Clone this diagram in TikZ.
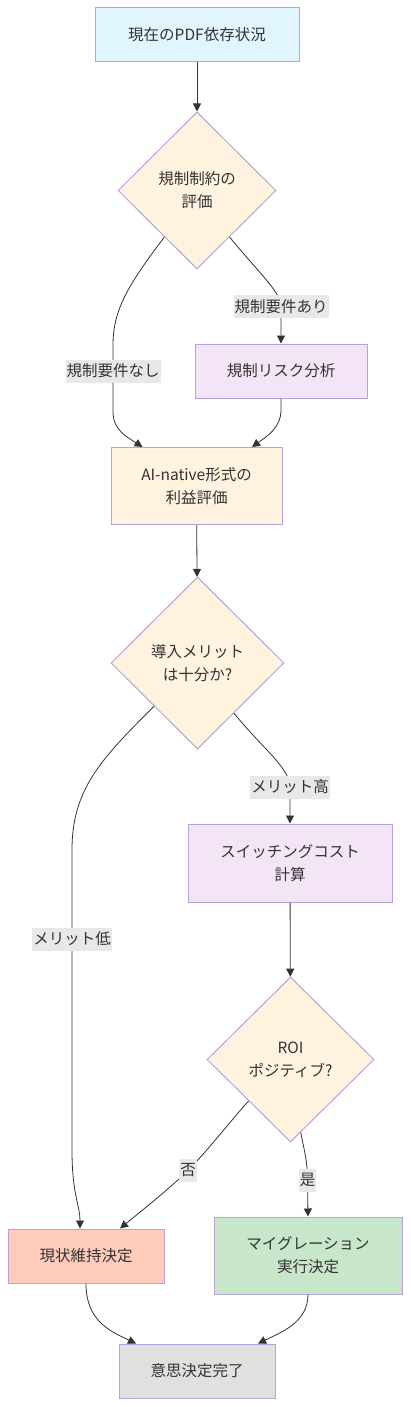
\documentclass[tikz,border=0pt]{standalone}
\usepackage{fontspec}
\setmainfont{Noto Sans CJK JP}
\usetikzlibrary{shapes.geometric,arrows.meta}
\definecolor{strk}{HTML}{B7A3DC}
\definecolor{edgec}{HTML}{333333}
\definecolor{txt}{HTML}{333333}
\definecolor{cblue}{HTML}{E1F5FE}
\definecolor{corange}{HTML}{FFF3E0}
\definecolor{cpurple}{HTML}{F3E5F5}
\definecolor{cred}{HTML}{FFCCBC}
\definecolor{cgreen}{HTML}{C8E6C9}
\definecolor{cgray}{HTML}{E0E0E0}
\definecolor{lblbg}{HTML}{E8E8E8}
\tikzset{
  base/.style={draw=strk, line width=1pt, text=txt, align=center, inner sep=0pt,
    font=\fontsize{15.5}{23}\selectfont},
  boxn/.style={base, rectangle},
  dia/.style={base, diamond, aspect=1},
  lbl/.style={fill=lblbg, text=txt, inner xsep=1pt, inner ysep=0pt, minimum height=23pt,
    font=\fontsize{15.5}{23}\selectfont},
  conn/.style={draw=edgec, line width=0.8pt, -{Triangle[length=8pt,width=8pt]}},
}
\begin{document}
\begin{tikzpicture}[x=1pt,y=-1pt]
\useasboundingbox (0,0) rectangle (410,1407);
% nodes
\node[boxn, fill=cblue, minimum width=204pt, minimum height=54pt] (A) at (197,35) {現在のPDF依存状況};
\node[dia, fill=corange, minimum width=158pt, minimum height=157pt] (B) at (197,190.5) {規制制約の\\評価};
\node[boxn, fill=cpurple, minimum width=172pt, minimum height=54pt] (C) at (281,371) {規制リスク分析};
\node[boxn, fill=corange, minimum width=171pt, minimum height=77pt] (D) at (196.5,486) {AI-native形式の\\利益評価};
\node[dia, fill=corange, minimum width=173pt, minimum height=172pt] (E) at (197.5,663) {導入メリット\\は十分か?};
\node[boxn, fill=cpurple, minimum width=204pt, minimum height=78pt] (F) at (290,863) {スイッチングコスト\\計算};
\node[dia, fill=corange, minimum width=167pt, minimum height=165pt] (G) at (290.5,1059.5) {ROI\\ポジティブ?};
\node[boxn, fill=cred, minimum width=156pt, minimum height=54pt] (H) at (86,1256) {現状維持決定};
\node[boxn, fill=cgreen, minimum width=188pt, minimum height=77pt] (I) at (308,1255.5) {マイグレーション\\実行決定};
\node[boxn, fill=cgray, minimum width=156pt, minimum height=54pt] (J) at (197,1371) {意思決定完了};
% label positions
\coordinate (pnashi) at (113,371);
\coordinate (pari) at (281,306.5);
\coordinate (ptaka) at (290,787);
\coordinate (phiku) at (72,939);
\coordinate (pno) at (188,1170.5);
\coordinate (pyes) at (307.5,1180);
% connectors
\draw[conn] (A) -- (B);
\draw[conn] (B.235) .. controls (128,285) and (113,310) .. (113,345) -- (pnashi) -- (113,412)
  .. controls (113,430) and (127,437) .. ([xshift=-54pt]D.north);
\draw[conn] (B.305) .. controls (258,272) and (281,292) .. (pari) -- (C.north);
\draw[conn] (C.south) -- (281,410) .. controls (281,428) and (266,437) .. ([xshift=55.5pt]D.north);
\draw[conn] (D) -- (E);
\draw[conn] (E.south west) .. controls (100,760) and (72,790) .. (72,850) -- (phiku) -- (72,1150)
  .. controls (72,1195) and (80,1205) .. ([xshift=-6pt]H.north);
\draw[conn] (E.306) .. controls (262,748) and (290,768) .. (ptaka) -- (F.north);
\draw[conn] (F) -- (G);
\draw[conn] (G.south west) .. controls (228,1124) and (208,1150) .. (pno)
  .. controls (168,1190) and (140,1212) .. ([xshift=34pt]H.north);
\draw[conn] (G.278) .. controls (304,1150) and (307.5,1160) .. (pyes) -- (I.north);
\draw[conn] (H.south) .. controls (86,1322) and (112,1332) .. ([xshift=-61pt]J.north);
\draw[conn] (I.south) .. controls (308,1322) and (282,1332) .. ([xshift=61pt]J.north);
% labels
\node[lbl] (lnashi) at (pnashi) {規制要件なし};
\node[lbl] (lari) at (pari) {規制要件あり};
\node[lbl] (ltaka) at (ptaka) {メリット高};
\node[lbl] (lhiku) at (phiku) {メリット低};
\node[lbl] (lno) at (pno) {否};
\node[lbl] (lyes) at (pyes) {是};
\end{tikzpicture}
\end{document}
